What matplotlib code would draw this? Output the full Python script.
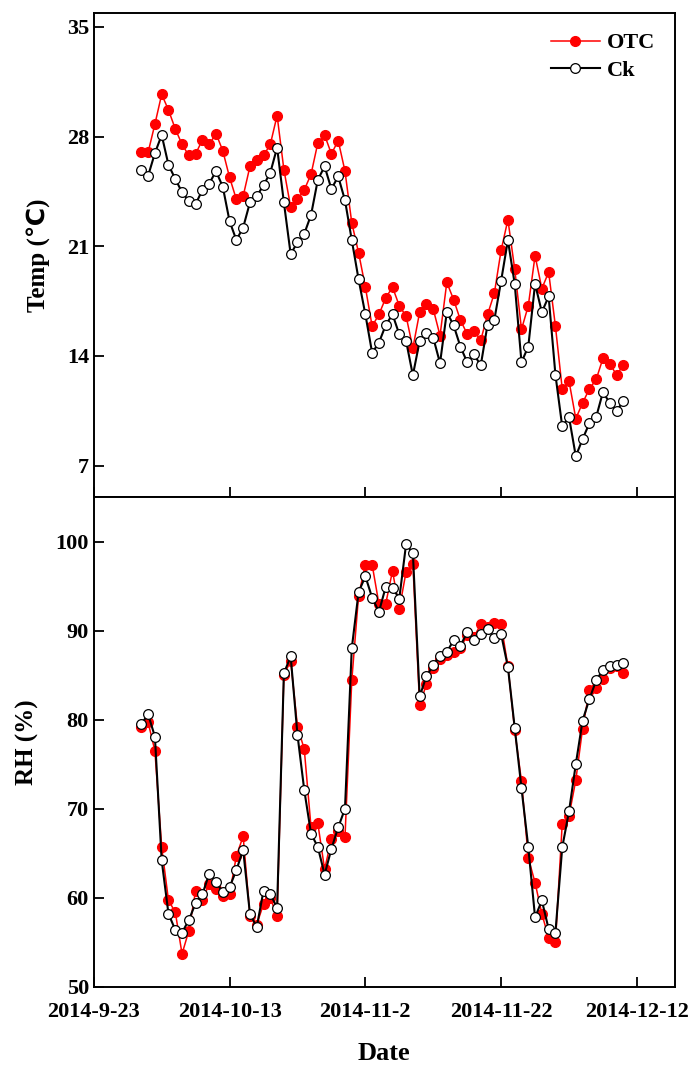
import matplotlib
matplotlib.use('Agg')
import matplotlib.pyplot as plt
import pandas as pd

# daily means, 2014-9-30 .. 2014-12-10
start_date = '2014-09-30'

otc_temp = [27.0, 27.0, 28.8, 30.7, 29.7, 28.5, 27.5, 26.8, 26.9, 27.8,
            27.5, 28.2, 27.1, 25.4, 24.0, 24.2, 26.1, 26.5, 26.8, 27.5,
            29.35, 25.9, 23.5, 24.0, 24.6, 25.6, 27.6, 28.1, 26.9, 27.75,
            25.8, 22.5, 20.6, 18.4, 15.9, 16.65, 17.7, 18.4, 17.2, 16.55,
            14.5, 16.8, 17.3, 17.0, 15.3, 18.7, 17.6, 16.3, 15.4, 15.6,
            15.0, 16.65, 18.0, 20.75, 22.7, 19.55, 15.7, 17.2, 20.4, 18.3,
            19.35, 15.9, 11.9, 12.4, 10.0, 11.0, 11.9, 12.5, 13.85, 13.5,
            12.8, 13.4]
ck_temp = [25.9, 25.5, 26.95, 28.1, 26.2, 25.3, 24.45, 23.9, 23.7, 24.6,
           25.0, 25.8, 24.8, 22.6, 21.4, 22.2, 23.8, 24.2, 24.9, 25.7,
           27.3, 23.8, 20.5, 21.26, 21.8, 23.0, 25.25, 26.1, 24.66, 25.46,
           23.94, 21.4, 18.9, 16.66, 14.2, 14.85, 15.97, 16.66, 15.38, 14.96,
           12.77, 14.96, 15.49, 15.17, 13.54, 16.8, 15.96, 14.6, 13.6, 14.1,
           13.4, 16.0, 16.3, 18.8, 21.4, 18.6, 13.6, 14.6, 18.6, 16.8,
           17.8, 12.8, 9.5, 10.1, 7.6, 8.7, 9.7, 10.1, 11.7, 11.0,
           10.5, 11.1]

otc_rh = [79.2, 79.7, 76.5, 65.7, 59.7, 58.4, 53.7, 56.3, 60.8, 59.7,
          61.6, 61.0, 60.2, 60.4, 64.7, 66.9, 58.0, 57.0, 59.3, 60.0,
          57.9, 85.0, 86.6, 79.2, 76.7, 67.9, 68.35, 63.2, 66.6, 67.5,
          66.8, 84.4, 93.9, 97.4, 97.4, 93.0, 93.0, 96.7, 92.4, 96.6,
          97.5, 81.6, 84.0, 85.8, 86.8, 87.3, 87.6, 88.0, 89.5, 89.3,
          90.7, 90.4, 90.9, 90.7, 86.0, 78.8, 73.1, 64.5, 61.7, 58.2,
          55.5, 55.0, 68.3, 69.2, 73.2, 79.0, 83.3, 83.6, 84.6, 85.8,
          86.0, 85.2]
ck_rh = [79.5, 80.6, 78.1, 64.2, 58.2, 56.4, 56.1, 57.5, 59.4, 60.4,
         62.7, 61.8, 60.6, 61.2, 63.1, 65.4, 58.2, 56.7, 60.8, 60.4,
         58.9, 85.2, 87.1, 78.3, 72.1, 67.2, 65.7, 62.6, 65.5, 67.9,
         70.0, 88.0, 94.3, 96.1, 93.7, 92.1, 94.9, 94.8, 93.6, 99.7,
         98.7, 82.6, 84.9, 86.1, 87.2, 87.6, 88.9, 88.3, 89.8, 88.9,
         89.6, 90.2, 89.2, 89.6, 85.9, 79.1, 72.3, 65.7, 57.8, 59.7,
         56.5, 56.1, 65.65, 69.7, 75.0, 79.9, 82.3, 84.4, 85.6, 86.0,
         86.1, 86.4]

tick_dates = ['2014-09-23', '2014-10-13', '2014-11-02', '2014-11-22', '2014-12-12']
tick_labels = ['2014-9-23', '2014-10-13', '2014-11-2', '2014-11-22', '2014-12-12']
temp_ticks = [7, 14, 21, 28, 35]
rh_ticks = [50, 60, 70, 80, 90, 100]

plt.rcParams['font.family'] = ['Liberation Serif', 'DejaVu Sans']
plt.rcParams['font.weight'] = 'bold'
plt.rcParams['axes.linewidth'] = 1.4

dates = pd.date_range(start_date, periods=len(otc_temp), freq='D')
ticks = pd.to_datetime(tick_dates)


def draw_series(ax, otc, ck):
    ax.plot(dates, otc, color='red', lw=1.1, marker='o', ms=7,
            mfc='red', mec='red', label='OTC')
    ax.plot(dates, ck, color='black', lw=1.5, marker='o', ms=7,
            mfc='white', mec='black', mew=0.9, label='Ck')
    ax.tick_params(direction='in', length=7, width=1.3, labelsize=16,
                   top=False, right=False)


fig = plt.figure(figsize=(7, 10.75), dpi=100)
ax1 = fig.add_axes([0.134, 0.5377, 0.83, 0.4503])
ax2 = fig.add_axes([0.134, 0.082, 0.83, 0.4557], sharex=ax1)

draw_series(ax1, otc_temp, ck_temp)
draw_series(ax2, otc_rh, ck_rh)

ax1.set_ylim(5.0, 35.9)
ax1.set_yticks(temp_ticks)
ax1.set_ylabel('Temp (℃)', fontsize=18, fontweight='bold', labelpad=12)
ax1.tick_params(axis='x', labelbottom=False)
ax1.legend(loc='upper right', frameon=False, fontsize=16, handlelength=2.2,
           handletextpad=0.3, labelspacing=0.3, borderaxespad=0.5)

ax2.set_ylim(50, 105)
ax2.set_yticks(rh_ticks)
ax2.set_ylabel('RH (%)', fontsize=18, fontweight='bold', labelpad=12)
ax2.tick_params(axis='x', pad=11)
ax2.set_xlabel('Date', fontsize=19, fontweight='bold', labelpad=14)

ax2.set_xlim(pd.Timestamp('2014-09-23'), pd.Timestamp('2014-12-17 14:00'))
ax2.set_xticks(ticks)
ax2.set_xticklabels(tick_labels)

fig.savefig('out.png', dpi=100)
